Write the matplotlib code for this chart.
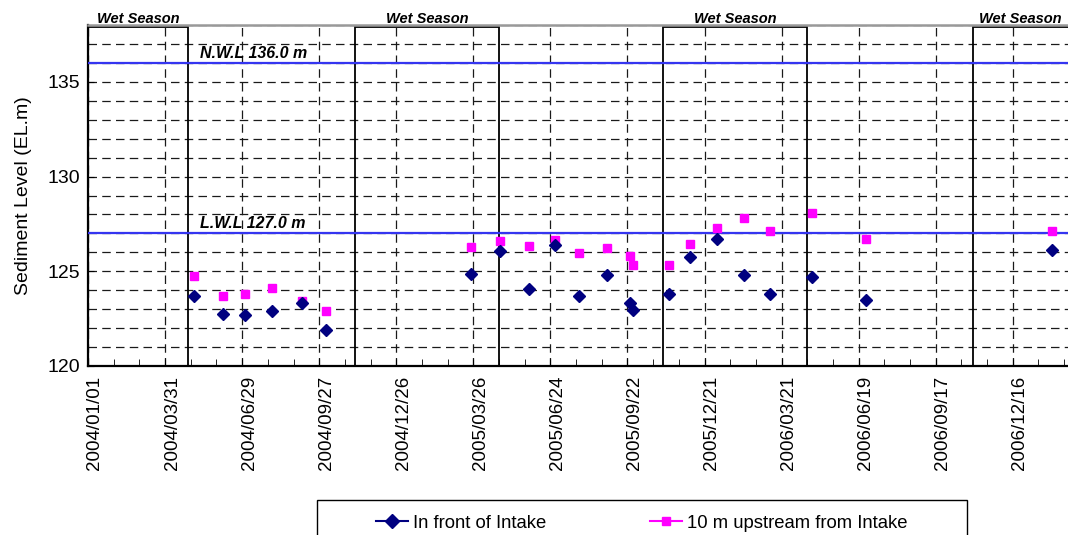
import numpy as np
import pandas as pd
import matplotlib
matplotlib.use('Agg')
import matplotlib.pyplot as plt
import matplotlib.dates as mdates
import matplotlib.transforms as mtransforms
from matplotlib.patches import Rectangle
from matplotlib.lines import Line2D

plt.rcParams['font.family'] = ['Liberation Sans', 'DejaVu Sans']

# Sounding survey dates and sediment levels (EL.m)
survey_dates = ['2004-05-04', '2004-06-07', '2004-07-02', '2004-08-03', '2004-09-07',
                '2004-10-05', '2005-03-23', '2005-04-26', '2005-05-30', '2005-06-29',
                '2005-07-28', '2005-08-29', '2005-09-25', '2005-09-29', '2005-11-09',
                '2005-12-04', '2006-01-04', '2006-02-05', '2006-03-08', '2006-04-25',
                '2006-06-28', '2007-01-31']
in_front = [123.72, 122.77, 122.70, 122.91, 123.30, 121.89, 124.88, 126.07, 124.04, 126.37,
            123.70, 124.82, 123.30, 122.95, 123.81, 125.77, 126.68, 124.79, 123.79, 124.70,
            123.47, 126.10]
upstream_10m = [124.74, 123.68, 123.79, 124.10, 123.44, 122.91, 126.28, 126.60, 126.33, 126.67,
                125.96, 126.23, 125.79, 125.35, 125.33, 126.44, 127.30, 127.79, 127.12, 128.07,
                126.70, 127.12]

# Wet season periods
wet_start = ['2003-11-01', '2004-11-08', '2005-11-03', '2006-10-31']
wet_end = ['2004-04-27', '2005-04-25', '2006-04-20', '2007-04-30']

# Reservoir water levels
nwl = 136.0
lwl = 127.0

x_start = pd.Timestamp('2004-01-01')
x_end = x_start + pd.Timedelta(days=1144.5)

fig = plt.figure(figsize=(10.68, 5.35), dpi=100)
ax = fig.add_axes([88 / 1068, 1 - 366 / 535, 1 - 88 / 1068, (366 - 25) / 535])

ax.set_xlim(x_start, x_end)
ax.set_ylim(120, 138)

# grid
ax.set_yticks([120, 125, 130, 135])
ax.set_yticks(np.arange(120, 139, 1), minor=True)
ax.set_xticks(pd.date_range(x_start, x_end, freq='90D'))
ax.set_xticks(pd.date_range(x_start, x_end, freq='30D'), minor=True)
ax.xaxis.set_major_formatter(mdates.DateFormatter('%Y/%m/%d'))
grid_kw = dict(color='#1a1a1a', linewidth=0.9, linestyle=(0, (6.8, 4.2)))
ax.grid(True, axis='y', which='both', **grid_kw)
ax.grid(True, axis='x', which='major', **grid_kw)
ax.set_axisbelow(True)

ax.tick_params(axis='both', which='both', direction='in', color='black')
ax.tick_params(axis='y', which='major', labelsize=14, length=4, pad=6)
ax.tick_params(axis='y', which='minor', length=0)
ax.tick_params(axis='x', which='both', length=5, pad=7)
ax.tick_params(axis='x', which='major', labelsize=13.5, labelrotation=90)

# date labels sit a little to the right of their ticks
shift = mtransforms.ScaledTranslation(7 / 100, 0, fig.dpi_scale_trans)
for lbl in ax.get_xticklabels():
    lbl.set_transform(lbl.get_transform() + shift)

for side in ('left', 'bottom'):
    ax.spines[side].set_linewidth(1.6)
    ax.spines[side].set_color('black')
ax.spines['right'].set_visible(False)
ax.spines['top'].set_color('#999999')
ax.spines['top'].set_linewidth(1.8)

ax.set_ylabel('Sediment Level (EL.m)', fontsize=14, labelpad=11)

# wet season boxes
for s, e in zip(wet_start, wet_end):
    s, e = pd.Timestamp(s), pd.Timestamp(e)
    x0, x1 = mdates.date2num(s), mdates.date2num(e)
    ax.add_patch(Rectangle((x0, 120), x1 - x0, 17.9, fill=False,
                           edgecolor='black', linewidth=1.3, zorder=2))
    vis0, vis1 = max(s, x_start), min(e, x_end)
    mid = vis0 + (vis1 - vis0) / 2
    ax.text(mid, 137.93, 'Wet Season', ha='center', va='bottom', fontsize=10.5,
            fontweight='bold', fontstyle='italic', clip_on=False)

# water levels
ax.axhline(nwl, color='#3535F0', linewidth=1.6, zorder=3)
ax.axhline(lwl, color='#3535F0', linewidth=1.6, zorder=3)
ax.text(pd.Timestamp('2004-05-11'), nwl + 0.12, f'N.W.L {nwl:.1f} m', fontsize=11.5,
        fontweight='bold', fontstyle='italic', va='bottom', ha='left')
ax.text(pd.Timestamp('2004-05-11'), lwl + 0.12, f'L.W.L {lwl:.1f} m', fontsize=11.5,
        fontweight='bold', fontstyle='italic', va='bottom', ha='left')

dates = pd.to_datetime(survey_dates)
ax.plot(dates, upstream_10m, linestyle='none', marker='s', markersize=6.2,
        color='#FF00FF', markeredgecolor='#FF00FF', zorder=4)
ax.plot(dates, in_front, linestyle='none', marker='D', markersize=6.2,
        color='#000080', markeredgecolor='#000080', zorder=5)

# legend
fig.patches.append(Rectangle((317 / 1068, -0.05), 650 / 1068, 0.05 + 1 - 500 / 535,
                             transform=fig.transFigure, fill=False,
                             edgecolor='black', linewidth=1.0))
handles = [Line2D([], [], color='#000080', marker='D', markersize=7, linewidth=1.5),
           Line2D([], [], color='#FF00FF', marker='s', markersize=6, linewidth=1.5)]
fig.legend(handles, ['In front of Intake', '10 m upstream from Intake'],
           loc='center', bbox_to_anchor=(642 / 1068, 1 - 523 / 535), ncol=2,
           frameon=False, handlelength=1.7, handletextpad=0.3,
           columnspacing=5.6, prop={'family': ['Liberation Sans Narrow', 'Liberation Sans'],
                                    'size': 13.3})

fig.savefig('out.png', dpi=100)
